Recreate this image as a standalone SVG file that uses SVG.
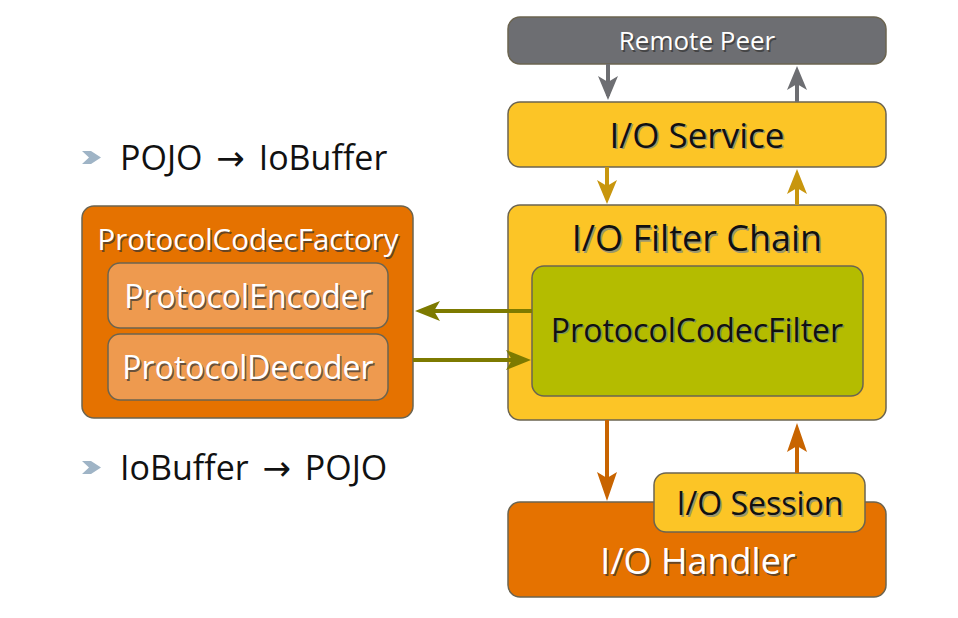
<svg xmlns="http://www.w3.org/2000/svg" width="958" height="618" viewBox="0 0 958 618">
<defs>
<style>
text{font-family:"Open Sans","Noto Sans","Liberation Sans",sans-serif;text-anchor:middle}
.box{stroke:#6b6450;stroke-width:1.5}
.w{fill:#fff}
.k{fill:#111}
.sd{fill:#333;opacity:.7}
.sl{fill:#5f7a9a;opacity:.6}
.arr{font-family:"DejaVu Sans",sans-serif}
.bl{text-anchor:start;word-spacing:5px}
</style>
</defs>
<rect width="958" height="618" fill="#fff"/>
<g id="bullet1">
<path d="M82,151 L91,151 L101,157.5 L91,164 L82,164 L89,157.5 z" fill="#9fb4c6"/>
<text x="120" y="170" font-size="34" class="k bl">POJO <tspan class="arr">→</tspan> IoBuffer</text>
</g>
<g id="bullet2">
<path d="M82,461 L91,461 L101,467.5 L91,474 L82,474 L89,467.5 z" fill="#9fb4c6"/>
<text x="120" y="480" font-size="34" class="k bl">IoBuffer <tspan class="arr">→</tspan> POJO</text>
</g>
<g id="remote-peer">
<rect x="508" y="17" width="378" height="47" rx="12" fill="#6d6e72" class="box"/>
<text x="698.5" y="51.5" font-size="26" font-weight="500" class="sd">Remote Peer</text>
<text x="697" y="50" font-size="26" font-weight="500" class="w">Remote Peer</text>
</g>
<g id="io-service">
<rect x="508" y="102" width="378" height="65" rx="12" fill="#fcc526" class="box"/>
<text x="698.5" y="149" font-size="35" class="sl">I/O Service</text>
<text x="697" y="147.5" font-size="35" class="k">I/O Service</text>
</g>
<g id="io-filter-chain">
<rect x="508" y="205" width="378" height="215" rx="12" fill="#fcc526" class="box"/>
<text x="698.5" y="252.5" font-size="36" class="sl">I/O Filter Chain</text>
<text x="697" y="251" font-size="36" class="k">I/O Filter Chain</text>
</g>
<g id="protocol-codec-filter">
<rect x="532" y="266" width="331" height="130" rx="12" fill="#b4bc00" class="box"/>
<text x="698.5" y="343" font-size="32" class="sl">ProtocolCodecFilter</text>
<text x="697" y="341.5" font-size="32" class="k">ProtocolCodecFilter</text>
</g>
<g id="protocol-codec-factory">
<rect x="82" y="206" width="331" height="212" rx="12" fill="#e57200" class="box"/>
<text x="249.5" y="251.5" font-size="29.5" font-weight="500" class="sd">ProtocolCodecFactory</text>
<text x="248" y="250" font-size="29.5" font-weight="500" class="w">ProtocolCodecFactory</text>
</g>
<g id="protocol-encoder">
<rect x="108" y="263" width="280" height="65" rx="12" fill="#ee9a4f" class="box"/>
<text x="249.5" y="309.5" font-size="32" class="sd">ProtocolEncoder</text>
<text x="248" y="308" font-size="32" class="w">ProtocolEncoder</text>
</g>
<g id="protocol-decoder">
<rect x="108" y="334" width="280" height="66" rx="12" fill="#ee9a4f" class="box"/>
<text x="249.5" y="380.5" font-size="32" class="sd">ProtocolDecoder</text>
<text x="248" y="379" font-size="32" class="w">ProtocolDecoder</text>
</g>
<g id="io-handler">
<rect x="508" y="502" width="378" height="95" rx="12" fill="#e57200" class="box"/>
<text x="699.5" y="575.5" font-size="36" class="sd">I/O Handler</text>
<text x="698" y="574" font-size="36" class="w">I/O Handler</text>
</g>
<g id="io-session">
<rect x="654" y="473" width="211" height="59" rx="12" fill="#fcc526" class="box"/>
<text x="761.5" y="516.5" font-size="32" class="sl">I/O Session</text>
<text x="760" y="515" font-size="32" class="k">I/O Session</text>
</g>
<g id="connectors">
<g stroke-width="4" fill="none">
<line x1="608" y1="64" x2="608" y2="96" stroke="#6d6e72"/>
<path d="M598,76 L608,100 L618,76 L608,82 z" fill="#6d6e72" stroke="none"/>
<line x1="797" y1="102" x2="797" y2="72" stroke="#6d6e72"/>
<path d="M787,90 L797,66 L807,90 L797,84 z" fill="#6d6e72" stroke="none"/>
<line x1="607" y1="167" x2="607" y2="198" stroke="#c8960e"/>
<path d="M597,180 L607,204 L617,180 L607,186 z" fill="#c8960e" stroke="none"/>
<line x1="797" y1="205" x2="797" y2="176" stroke="#c8960e"/>
<path d="M787,194 L797,169 L807,194 L797,188 z" fill="#c8960e" stroke="none"/>
<line x1="532" y1="311" x2="422" y2="311" stroke="#7d7a00"/>
<path d="M440,301 L415,311 L440,321 L434,311 z" fill="#7d7a00" stroke="none"/>
<line x1="413" y1="360" x2="524" y2="360" stroke="#7d7a00"/>
<path d="M506,350 L531,360 L506,370 L512,360 z" fill="#7d7a00" stroke="none"/>
<line x1="607" y1="420" x2="607" y2="494" stroke="#c86400"/>
<path d="M597,472 L607,501 L617,472 L607,478 z" fill="#c86400" stroke="none"/>
<line x1="797" y1="473" x2="797" y2="430" stroke="#c86400"/>
<path d="M787,452 L797,423 L807,452 L797,446 z" fill="#c86400" stroke="none"/>
</g>
</g>
</svg>
